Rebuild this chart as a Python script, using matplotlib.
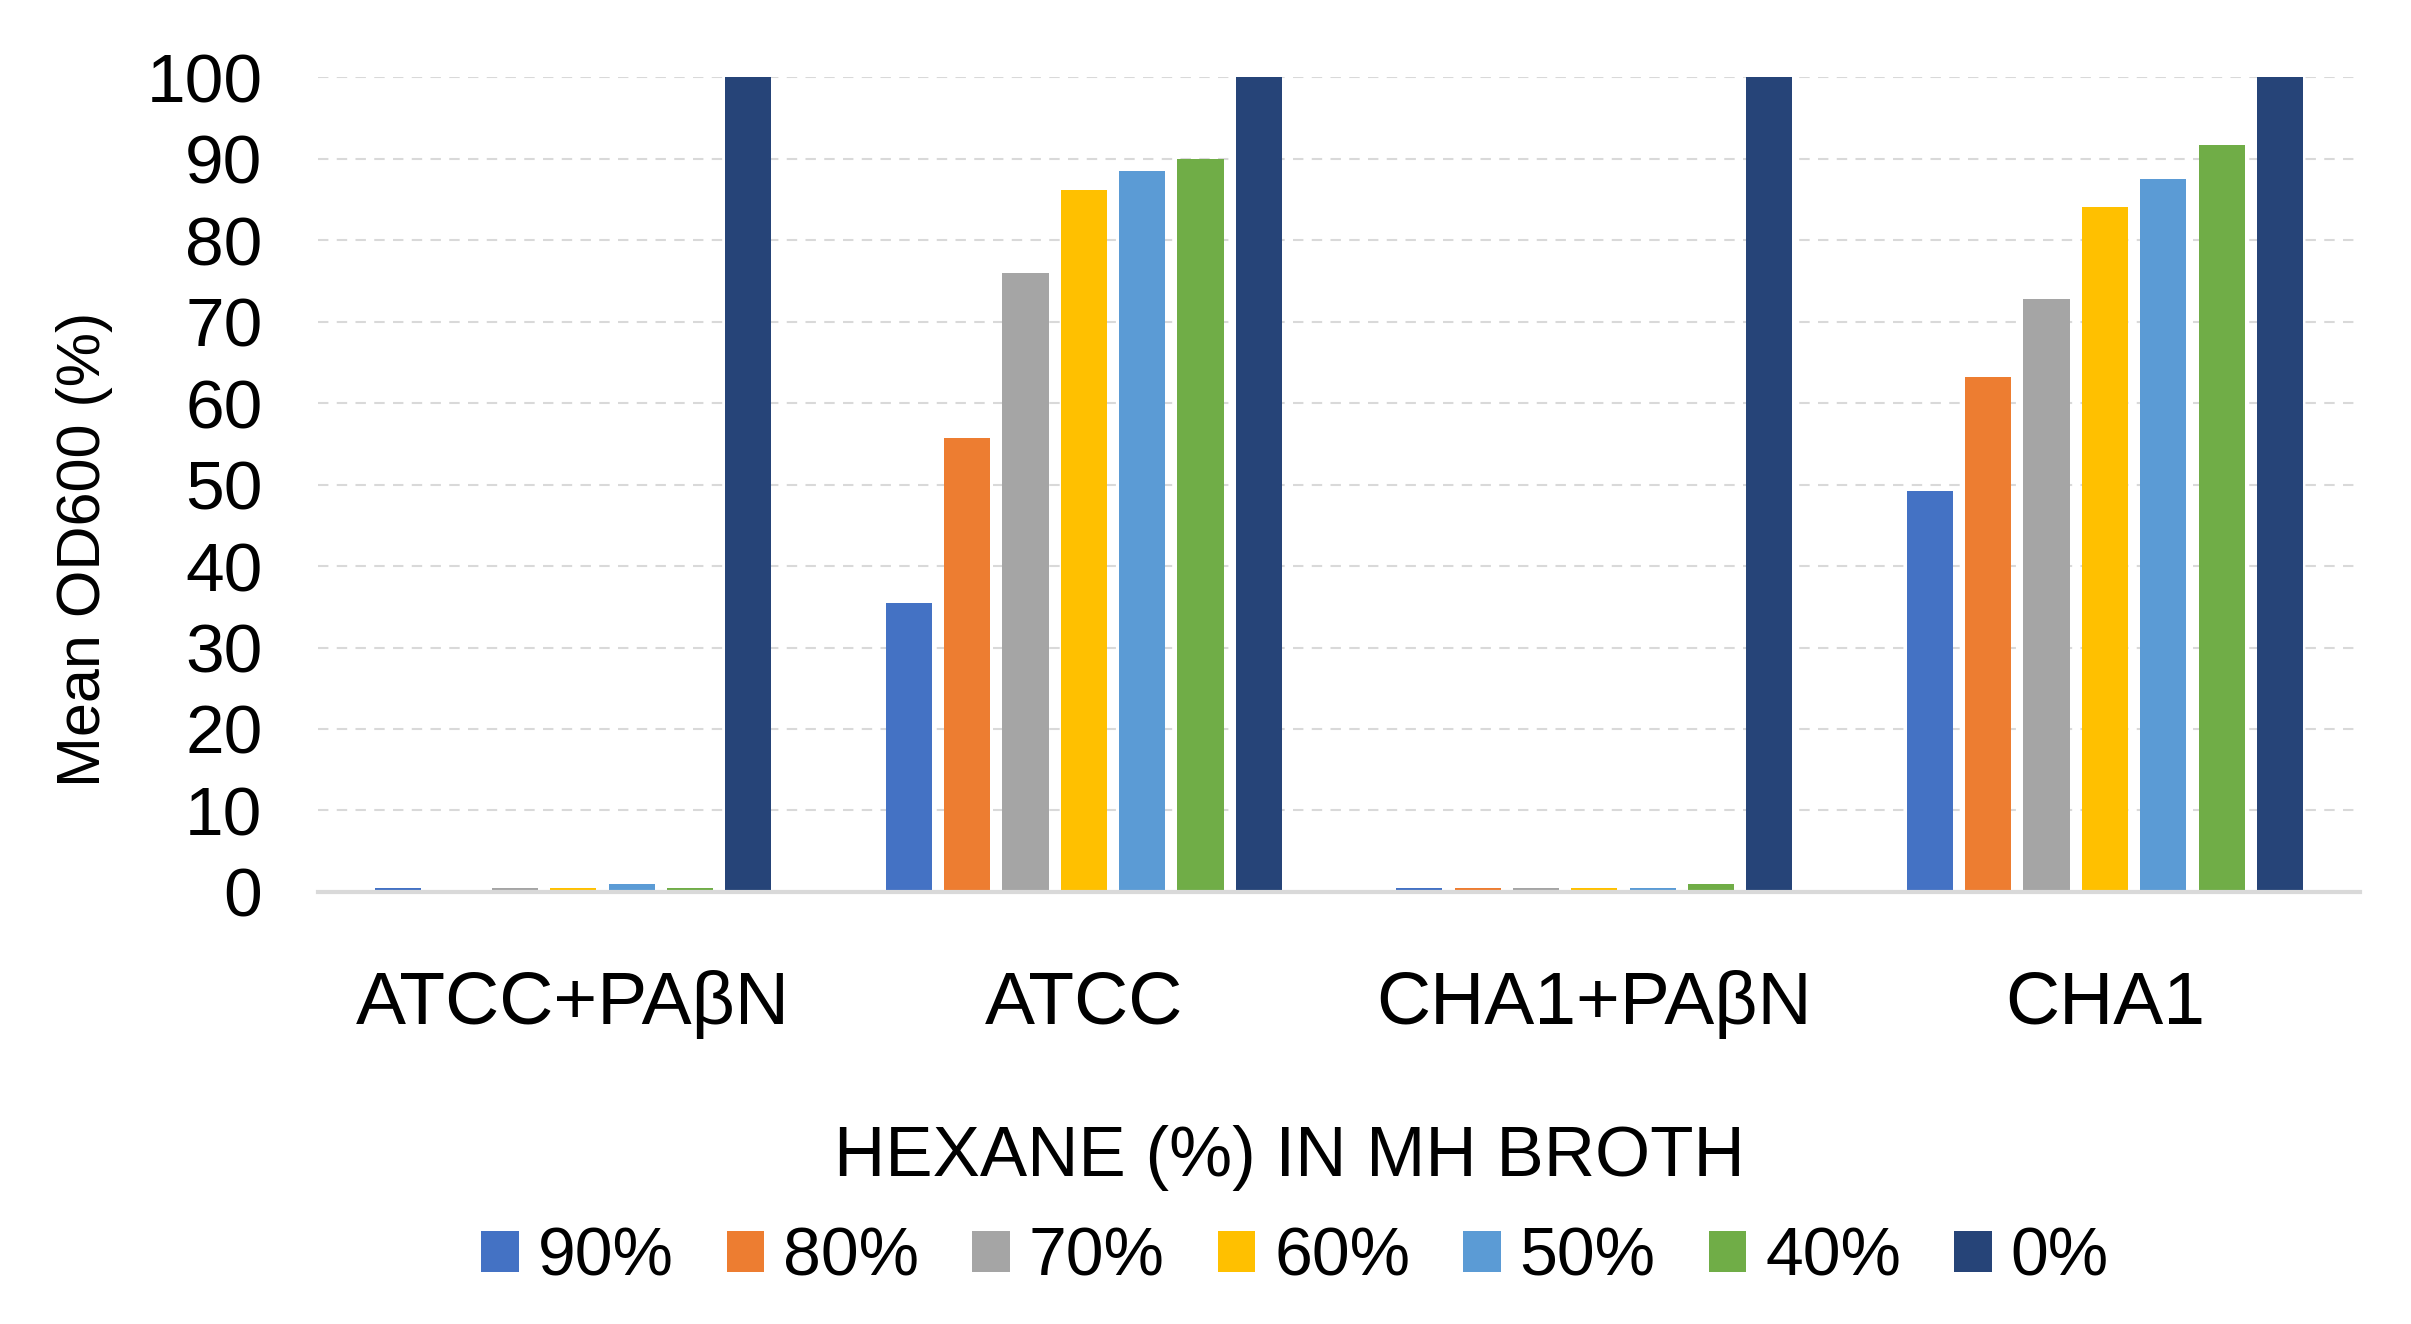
import matplotlib
matplotlib.use("Agg")
import matplotlib.pyplot as plt
import numpy as np

plt.rcParams['font.family'] = ['Liberation Sans', 'DejaVu Sans']

categories = ["ATCC+PAβN", "ATCC", "CHA1+PAβN", "CHA1"]
series_labels = ["90%", "80%", "70%", "60%", "50%", "40%", "0%"]
colors = ["#4472C4", "#ED7D31", "#A5A5A5", "#FFC000", "#5B9BD5", "#70AD47", "#264478"]

v90 = [0.5, 35.5, 0.5, 49.2]
v80 = [0.0, 55.7, 0.5, 63.2]
v70 = [0.5, 76.0, 0.5, 72.8]
v60 = [0.5, 86.2, 0.5, 84.0]
v50 = [1.0, 88.5, 0.5, 87.5]
v40 = [0.5, 90.0, 1.0, 91.7]
v0 = [100, 100, 100, 100]
series = [v90, v80, v70, v60, v50, v40, v0]

yticks = [0, 10, 20, 30, 40, 50, 60, 70, 80, 90, 100]

fig = plt.figure(figsize=(24.11, 13.24), dpi=100)
ax = fig.add_axes([0.1319, 0.3263, 0.8470, 0.6155])

x = np.arange(len(categories))
n = len(series)
slot = 0.8 / n
bw = slot * 0.79
for i, (vals, lab, c) in enumerate(zip(series, series_labels, colors)):
    ax.bar(x + (i - (n - 1) / 2) * slot, vals, width=bw, color=c, label=lab, zorder=3)

ax.set_xlim(-0.5, len(categories) - 0.5)
ax.set_ylim(0, 100)
ax.set_yticks(yticks)
ax.set_yticklabels([str(t) for t in yticks], fontsize=50)
ax.set_xticks(x)
ax.set_xticklabels(categories, fontsize=54)
ax.tick_params(axis='y', length=0, pad=40)
ax.tick_params(axis='x', length=0, pad=56)
for g in yticks[1:]:
    ax.axhline(g, color="#D9D9D9", lw=1.5, ls=(0, (5, 4)), zorder=1)
for s in ["top", "right", "left"]:
    ax.spines[s].set_visible(False)
ax.spines["bottom"].set_color("#D9D9D9")
ax.spines["bottom"].set_linewidth(3)
ax.spines["bottom"].set_zorder(4)

fig.text(0.035, 0.585, "Mean OD600 (%)", rotation=90, fontsize=44, va='center', ha='center')
fig.text(1289 / 2411, 1 - 1158 / 1324, "HEXANE (%) IN MH BROTH", fontsize=51, ha='center', va='center')

fig.legend(loc='center', bbox_to_anchor=(1295 / 2411, 1 - 1258 / 1324), ncol=7, frameon=False,
           fontsize=49, handlelength=0.55, handleheight=0.55, handletextpad=0.28,
           columnspacing=0.78, borderpad=0)

fig.savefig("out.png", dpi=100)
